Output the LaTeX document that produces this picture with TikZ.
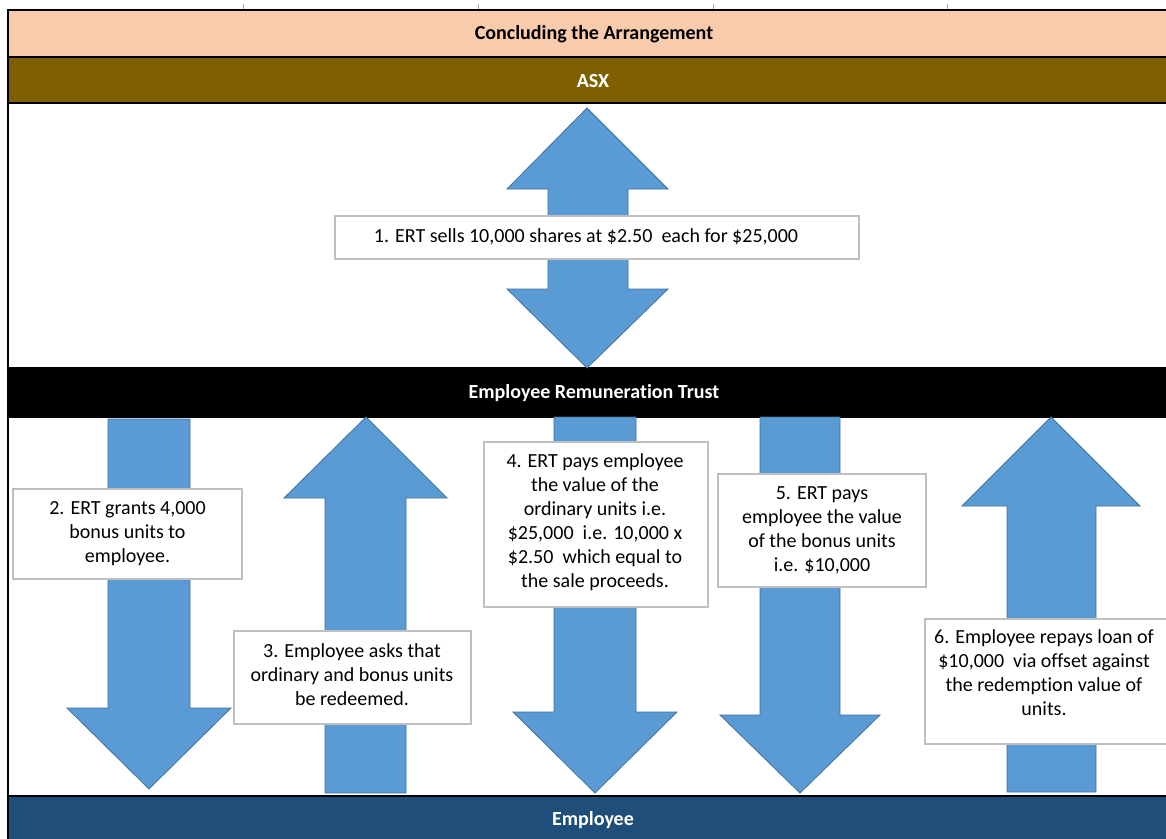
\documentclass[tikz,border=0pt]{standalone}
\usepackage{fontspec}
\setmainfont{Carlito}[Ligatures={NoCommon}]
\usetikzlibrary{fit}
\definecolor{peach}{HTML}{F8CBAD}
\definecolor{asxbrown}{HTML}{7F6000}
\definecolor{empblue}{HTML}{1F4E79}
\definecolor{arrowfill}{HTML}{5B9BD5}
\definecolor{arrowline}{HTML}{41719C}
\definecolor{boxline}{HTML}{BFBFBF}
\begin{document}
\begin{tikzpicture}[x=0.75pt,y=-0.75pt,
  band/.style={inner sep=0pt, draw=black, line width=1.5pt},
  bandtext/.style={inner sep=0pt, font=\fontsize{15}{18}\selectfont\bfseries},
  bigarrow/.style={fill=arrowfill, draw=arrowline, line width=0.6pt, line join=miter},
  textbox/.style={fill=white, draw=boxline, line width=0.9pt, inner sep=0pt},
  boxtext/.style={align=center, inner sep=0pt, font=\fontsize{15}{18}\selectfont},
  tick/.style={draw=gray!70, line width=0.6pt}
]
\useasboundingbox (0,0) rectangle (1166,838);
\fill[white] (0,0) rectangle (1166,838);

% grid ticks above the frame
\coordinate (k1a) at (243,4); \coordinate (k1b) at (243,10);
\coordinate (k2a) at (478,4); \coordinate (k2b) at (478,10);
\coordinate (k3a) at (713,4); \coordinate (k3b) at (713,10);
\coordinate (k4a) at (947,4); \coordinate (k4b) at (947,10);
\draw[tick] (k1a) -- (k1b); \draw[tick] (k2a) -- (k2b);
\draw[tick] (k3a) -- (k3b); \draw[tick] (k4a) -- (k4b);

% outer frame
\draw[line width=1.5pt] (8,900) -- (8,10) -- (1200,10);

% bands
\node[band, fill=peach, fit={(8,10) (1180,57)}] (title) {};
\node[bandtext] (titletext) at (594,34) {Concluding the Arrangement};
\node[band, fill=asxbrown, fit={(8,57) (1180,103)}] (asx) {};
\node[bandtext, text=white] (asxtext) at (593,81) {ASX};
\node[band, fill=black, fit={(8,368) (1180,417)}] (ert) {};
\node[bandtext, text=white] (erttext) at (594,393) {Employee Remuneration Trust};
\node[band, fill=empblue, fit={(8,796) (1180,860)}] (emp) {};
\node[bandtext, text=white] (emptext) at (593,820) {Employee};

% arrow 1: double arrow between ASX and ERT
\draw[bigarrow] (587,108) -- (668,189) -- (628,189) -- (628,289) -- (668,289) -- (587,368)
  -- (507,289) -- (548,289) -- (548,189) -- (507,189) -- cycle;
% arrow 2: down
\draw[bigarrow] (108,419) -- (190,419) -- (190,708) -- (231,708) -- (149,789) -- (67,708) -- (108,708) -- cycle;
% arrow 3: up
\draw[bigarrow] (366,417) -- (447,498) -- (406,498) -- (406,793) -- (325,793) -- (325,498) -- (284,498) -- cycle;
% arrow 4: down
\draw[bigarrow] (554,417) -- (636,417) -- (636,712) -- (677,712) -- (595,793) -- (513,712) -- (554,712) -- cycle;
% arrow 5: down
\draw[bigarrow] (760,417) -- (840,417) -- (840,715) -- (880,715) -- (800,793) -- (720,715) -- (760,715) -- cycle;
% arrow 6: up
\draw[bigarrow] (1051,417) -- (1140,506) -- (1096,506) -- (1096,792) -- (1007,792) -- (1007,506) -- (962,506) -- cycle;

% text boxes
\node[textbox, fit={(335,216) (859,259)}] (b1) {};
\node[boxtext] (t1) at (586,237) {1. ERT sells 10,000 shares at \$2.50\ \ each for \$25,000};

\node[textbox, fit={(13,489) (242,579)}] (b2) {};
\node[boxtext] (t2) at (b2.center) {2. ERT grants 4,000\\bonus units to\\employee.};

\node[textbox, fit={(234,631) (471,724)}] (b3) {};
\node[boxtext] (t3) at (352,675) {3. Employee asks that\\ordinary and bonus units\\be redeemed.};

\node[textbox, fit={(484,442) (708,607)}] (b4) {};
\node[boxtext] (t4) at (595,522) {4. ERT pays employee\\the value of the\\ordinary units i.e.\\\$25,000\ \ i.e. 10,000 x\\\$2.50\ \ which equal to\\the sale proceeds.};

\node[textbox, fit={(718,474) (926,587)}] (b5) {};
\node[boxtext] (t5) at (b5.center) {5. ERT pays\\employee the value\\of the bonus units\\i.e. \$10,000};

\node[textbox, fit={(925,619) (1168,744)}] (b6) {};
\node[boxtext] (t6) at (1044,673) {6. Employee repays loan of\\\$10,000\ \ via offset against\\the redemption value of\\units.};
\end{tikzpicture}
\end{document}
